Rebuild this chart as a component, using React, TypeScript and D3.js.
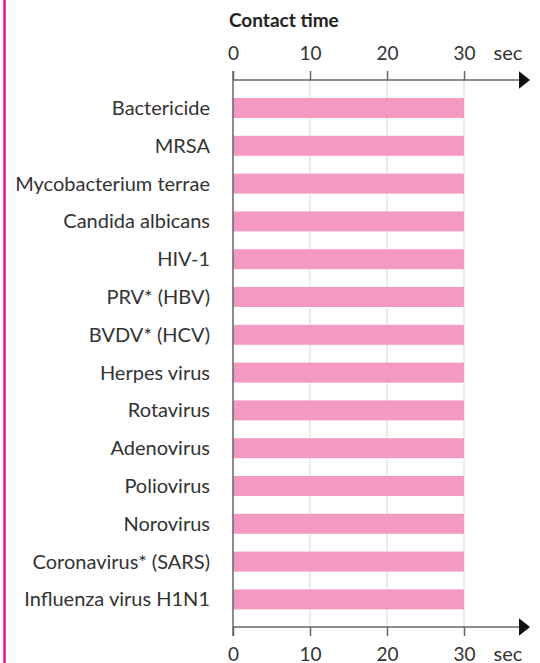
import { useRef, useEffect } from "react";
import * as d3 from "d3";

const organisms = [
  "Bactericide",
  "MRSA",
  "Mycobacterium terrae",
  "Candida albicans",
  "HIV-1",
  "PRV* (HBV)",
  "BVDV* (HCV)",
  "Herpes virus",
  "Rotavirus",
  "Adenovirus",
  "Poliovirus",
  "Norovirus",
  "Coronavirus* (SARS)",
  "Influenza virus H1N1",
];
const contactSec = [30, 30, 30, 30, 30, 30, 30, 30, 30, 30, 30, 30, 30, 30];
const tickValues = [0, 10, 20, 30];

export default function App() {
  const svgRef = useRef<SVGSVGElement>(null);

  useEffect(() => {
    if (!svgRef.current) return;
    const svg = d3.select(svgRef.current);
    svg.selectAll("*").remove();
    const height = 663;
    const font = "Lato, 'Open Sans', sans-serif";
    const fontSize = 19;
    const textColor = "#333";
    const axisColor = "#666";

    const x = d3.scaleLinear().domain([0, 30]).range([233, 464]);
    const step = 37.8;
    const inner = (step - 20) / step;
    const y = d3
      .scaleBand()
      .domain(organisms)
      .range([98 - (step - 20) / 2, 98 + 13 * step + 20 + (step - 20) / 2])
      .paddingInner(inner)
      .paddingOuter(inner / 2);

    const topY = 80;
    const bottomY = 627;

    // left magenta rule
    svg
      .append("line")
      .attr("x1", 4.5)
      .attr("x2", 4.5)
      .attr("y1", 0)
      .attr("y2", height)
      .attr("stroke", "#e4148c")
      .attr("stroke-width", 2.5);

    // title
    svg
      .append("text")
      .attr("x", 229)
      .attr("y", 27)
      .attr("font-family", font)
      .attr("font-weight", 700)
      .attr("font-size", fontSize)
      .attr("fill", "#222")
      .text("Contact time");

    // grid lines
    svg
      .append("g")
      .selectAll("line")
      .data(tickValues.slice(1))
      .enter()
      .append("line")
      .attr("x1", (d) => x(d))
      .attr("x2", (d) => x(d))
      .attr("y1", topY)
      .attr("y2", bottomY)
      .attr("stroke", "#e4e4e4")
      .attr("stroke-width", 1.5);

    // bars
    svg
      .append("g")
      .selectAll("rect")
      .data(organisms)
      .enter()
      .append("rect")
      .attr("x", x(0))
      .attr("y", (d) => y(d)!)
      .attr("width", (_, i) => x(contactSec[i]) - x(0))
      .attr("height", y.bandwidth())
      .attr("fill", "#f49ac2");

    // zero line
    svg
      .append("line")
      .attr("x1", x(0))
      .attr("x2", x(0))
      .attr("y1", topY - 9)
      .attr("y2", bottomY + 9)
      .attr("stroke", axisColor)
      .attr("stroke-width", 1.5);

    // category labels
    svg
      .append("g")
      .selectAll("text")
      .data(organisms)
      .enter()
      .append("text")
      .attr("x", 210)
      .attr("y", (d) => y(d)! + y.bandwidth() / 2)
      .attr("dy", "0.35em")
      .attr("text-anchor", "end")
      .attr("font-family", font)
      .attr("font-size", 20)
      .attr("fill", textColor)
      .text((d) => d);

    function drawAxis(yPos: number, top: boolean) {
      const axis = (top ? d3.axisTop(x) : d3.axisBottom(x))
        .tickValues(tickValues)
        .tickSize(9)
        .tickFormat(d3.format("d"));
      const g = svg
        .append("g")
        .attr("transform", `translate(0,${yPos})`)
        .call(axis);
      g.select(".domain").remove();
      g.selectAll(".tick line").attr("stroke", axisColor).attr("stroke-width", 1.5);
      const labelY = top ? -20 : 34;
      g.selectAll(".tick text")
        .attr("y", labelY)
        .attr("dy", 0)
        .attr("font-family", font)
        .attr("font-size", fontSize)
        .attr("fill", textColor);
      g.append("line")
        .attr("x1", x(0))
        .attr("x2", 521)
        .attr("y1", 0)
        .attr("y2", 0)
        .attr("stroke", axisColor)
        .attr("stroke-width", 1.5);
      g.append("path")
        .attr("d", "M519,-8.7 L530,0 L519,8.7 Z")
        .attr("fill", "#111");
      g.append("text")
        .attr("x", 508)
        .attr("y", labelY)
        .attr("text-anchor", "middle")
        .attr("font-family", font)
        .attr("font-size", 20)
        .attr("fill", textColor)
        .text("sec");
    }
    drawAxis(topY, true);
    drawAxis(bottomY, false);
  }, []);

  return (
    <svg
      ref={svgRef}
      width={540}
      height={663}
      viewBox="0 0 540 663"
      style={{ position: "absolute", top: 0, left: 0, background: "#fff" }}
    />
  );
}
